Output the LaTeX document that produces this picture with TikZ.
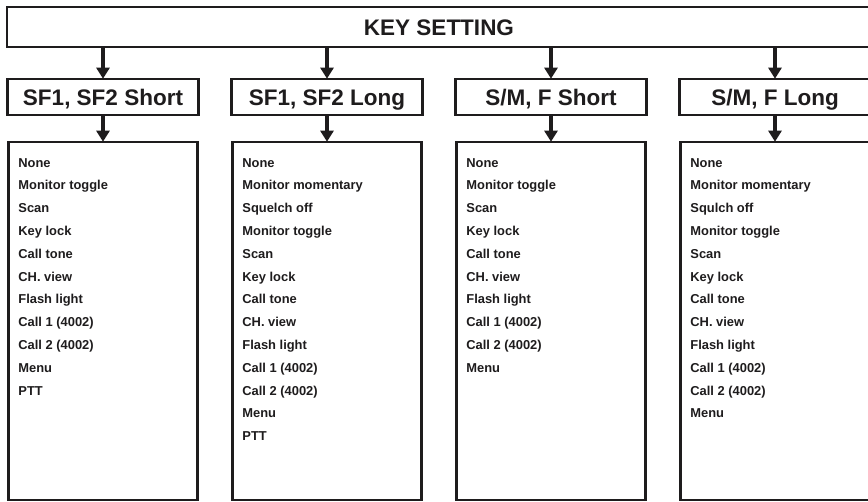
\documentclass[tikz,border=0pt]{standalone}
\usepackage{fontspec}
\setmainfont{Liberation Sans}
\usetikzlibrary{arrows.meta,calc}
\definecolor{ink}{RGB}{30,28,29}
\tikzset{
  box/.style={draw=ink, line width=2.6pt, fill=white, inner sep=0pt, text=ink,
    text height=16.2pt, text depth=0pt,
    font=\fontsize{22.5}{26}\selectfont\bfseries},
  listbox/.style={draw=ink, line width=2.6pt, fill=white, inner sep=0pt,
    minimum width=189pt, minimum height=358pt},
  item/.style={anchor=base west, inner sep=0pt, text=ink,
    font=\fontsize{12.9}{15}\selectfont\bfseries},
  arr/.style={draw=ink, line width=3.6pt,
    -{Triangle[width=13pt,length=11pt]}, shorten >=-1pt}
}
\begin{document}
\begin{tikzpicture}[x=1pt,y=-1pt]
\useasboundingbox (0,0) rectangle (868,502);
\fill[white] (0,0) rectangle (868,502);
\node[box, minimum width=864pt, minimum height=40pt] (top) at (439,27) {KEY SETTING};
\foreach \k/\t in {0/{SF1, SF2 Short},1/{SF1, SF2 Long},2/{S/M, F Short},3/{S/M, F Long}}{
  \node[box, minimum width=191pt, minimum height=36pt] (h\k) at (103+224*\k,97) {\t};
  \node[listbox] (l\k) at (103+224*\k,321) {};
  \draw[arr] (h\k.north |- top.south) -- (h\k.north);
  \draw[arr] (h\k.south) -- (l\k.north);
}
\foreach \s [count=\i from 0] in {None,Monitor toggle,Scan,Key lock,Call tone,CH. view,Flash light,Call 1 (4002),Call 2 (4002),Menu,PTT}{
  \node[item] (a\i) at ($(l0.north west)+(11,26.5+22.8*\i)$) {\s};
}
\foreach \s [count=\i from 0] in {None,Monitor momentary,Squelch off,Monitor toggle,Scan,Key lock,Call tone,CH. view,Flash light,Call 1 (4002),Call 2 (4002),Menu,PTT}{
  \node[item] (b\i) at ($(l1.north west)+(11,26.5+22.8*\i)$) {\s};
}
\foreach \s [count=\i from 0] in {None,Monitor toggle,Scan,Key lock,Call tone,CH. view,Flash light,Call 1 (4002),Call 2 (4002),Menu}{
  \node[item] (c\i) at ($(l2.north west)+(11,26.5+22.8*\i)$) {\s};
}
\foreach \s [count=\i from 0] in {None,Monitor momentary,Squlch off,Monitor toggle,Scan,Key lock,Call tone,CH. view,Flash light,Call 1 (4002),Call 2 (4002),Menu}{
  \node[item] (d\i) at ($(l3.north west)+(11,26.5+22.8*\i)$) {\s};
}
\end{tikzpicture}
\end{document}
